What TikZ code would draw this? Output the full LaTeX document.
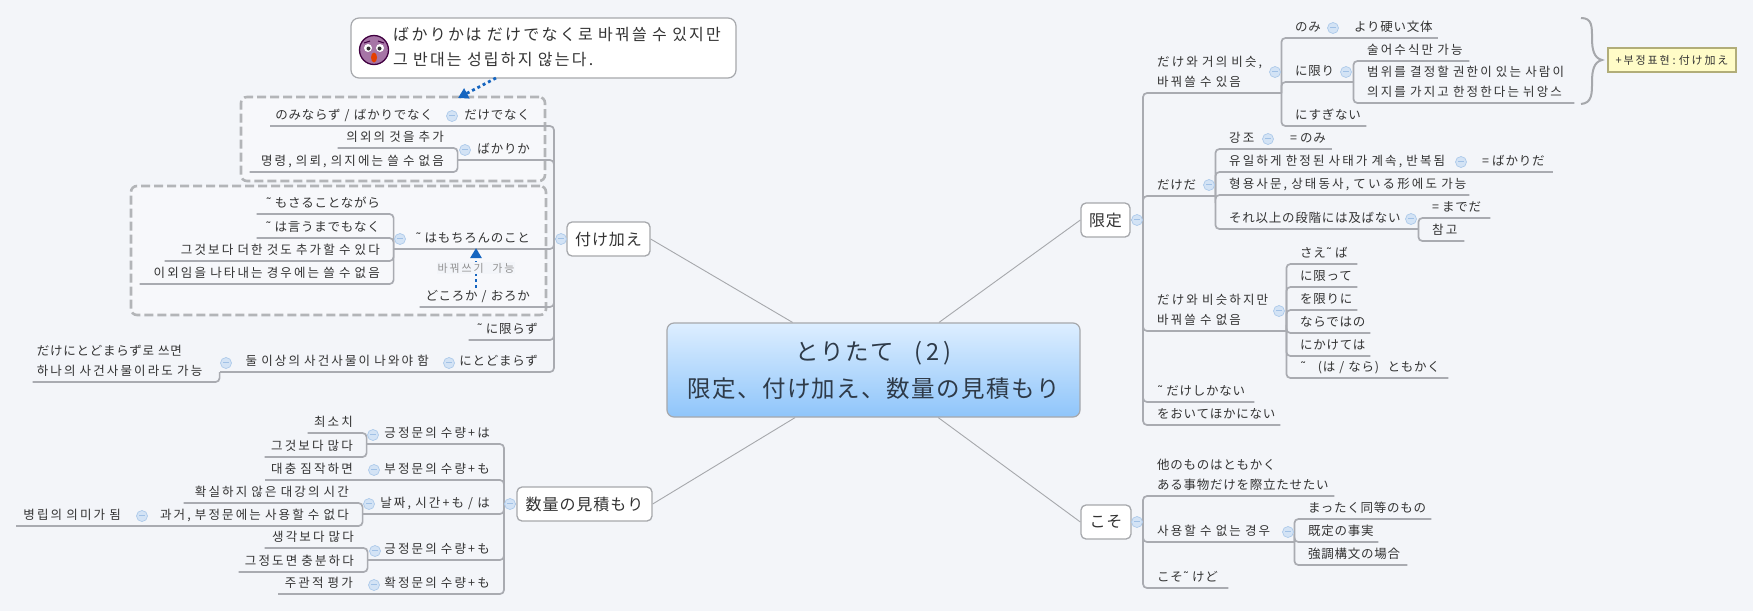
\documentclass[tikz,border=0pt]{standalone}
\usepackage{fontspec}
\usetikzlibrary{arrows.meta}
\setmainfont{Noto Sans CJK JP}[LetterSpace=6,WordSpace=1.6]
\newfontfamily\ko{Noto Sans CJK JP}[LetterSpace=17,WordSpace=2]
\newfontfamily\nt{Noto Sans CJK JP}[LetterSpace=14,WordSpace=5]
\newfontfamily\vaguefont{DejaVu Sans}
\newcommand{\vague}{{\vaguefont ˜}\kern3pt }
\newcommand{\decale}[1]{\strut\kern#1pt }
\definecolor{fond}{HTML}{F3F5F9}
\definecolor{encre}{HTML}{333333}
\definecolor{trait}{HTML}{A9ABB1}
\definecolor{bord}{HTML}{A6A8AC}
\definecolor{bleu}{HTML}{1565C0}
\definecolor{pli}{HTML}{D3E3F5}
\definecolor{haut}{HTML}{DDEEFF}
\definecolor{bas}{HTML}{8FC5FA}
\tikzset{
  racine/.style={draw=bord,fill=white,line width=1.3pt,rounded corners=5pt,inner sep=0pt,
    text=encre,minimum height=34pt,font=\fontsize{16}{20}\selectfont},
  rsujet/.style={anchor=south west,inner sep=0pt,text width=#1pt,align=left,text=encre,
    font=\fontsize{12.5}{20}\selectfont,execute at begin node=\decale{14},execute at end node=\strut},
  lsujet/.style={anchor=south east,inner sep=0pt,text width=#1pt,align=right,text=encre,
    font=\fontsize{12.5}{20}\selectfont,execute at begin node=\strut,execute at end node=\kern14pt\strut},
  branche/.style={draw=trait,line width=1.7pt,rounded corners=4pt},
  lien/.style={draw=bord,line width=0.9pt},
  plier/.style={circle,draw=pli!80!bleu,fill=pli,line width=0.7pt,minimum size=11pt,inner sep=0pt,
    execute at begin node={\textcolor{bleu!40!white}{\rule[1.5pt]{5.5pt}{1pt}}}},
  groupe/.style={draw=bord!85,line width=2.6pt,dash pattern=on 9pt off 4pt,rounded corners=6pt,
    fill=white,fill opacity=0.35,inner sep=0pt},
  renvoi/.style={draw=bleu,line width=2.8pt,dash pattern=on 3pt off 3pt,-{Triangle[length=10pt,width=11pt]}}
}
\begin{document}
\begin{tikzpicture}[x=1pt,y=-1pt]
  \path[use as bounding box,fill=fond] (0,0) rectangle (1753,611);

  % Groupes.
  \node[groupe,minimum width=304pt,minimum height=84pt] (groupeA) at (393,139) {};
  \node[groupe,minimum width=415pt,minimum height=129pt] (groupeB) at (338.5,250.5) {};

  % Centre.
  \node[draw=bord,top color=haut,bottom color=bas,line width=1.2pt,rounded corners=7pt,
    minimum width=413pt,minimum height=94pt,inner sep=0pt,align=center,text=encre!85!bleu,
    font=\fontsize{23.5}{37}\selectfont] (centre) at (873.5,370)
    {とりたて\ \ (\,2\,)\\限定、付け加え、数量の見積もり};

  % Sujets.
  \node[racine,minimum width=83pt] (ajout) at (608.5,239) {付け加え};
  \node[racine,minimum width=135pt] (quantite) at (584.5,504) {数量の見積もり};
  \node[racine,minimum width=49pt] (limite) at (1105.5,220) {限定};
  \node[racine,minimum width=50pt] (koso) at (1106,522) {こそ};
  \draw[lien] (ajout.east) -- (centre);
  \draw[lien] (quantite.east) -- (centre);
  \draw[lien] (limite.west) -- (centre);
  \draw[lien] (koso.west) -- (centre);

  % Note.
  \node[draw=bord,fill=white,line width=1.2pt,rounded corners=8pt,inner sep=0pt,text width=385pt,align=left,
    minimum height=60pt,text=encre,font=\fontsize{16}{25}\selectfont] (note) at (543.5,48)
    {\decale{42}\nt ばかりかは だけでなく로 바꿔쓸 수 있지만\\\decale{42}그 반대는 성립하지 않는다.};
  \node[circle,draw=violet!50!black,fill=violet!55!gray!70!white,line width=1.3pt,minimum size=29pt,inner sep=0pt] (visage) at (374,50) {};
  \fill[white] (368,48) circle (4) (380,48) circle (4);
  \fill[black!80] (368.5,48.5) circle (2) (379.5,48.5) circle (2);
  \fill[orange!55!red!90!black] (374,57.5) ellipse (3 and 5);
  \draw[violet!50!black,line width=1pt] (364,43) -- (370,41) (378,41) -- (384,43);

  % Ajout.
  \coordinate (axeA) at (554,239);
  \draw[branche] (ajout.west) -- (axeA);
  \node[lsujet=97] (dakede) at (544,126) {だけでなく};
  \node[lsujet=177] (nominarazu) at (447,126) {のみならず / ばかりでなく};
  \node[lsujet=86] (bakarika) at (544,160) {ばかりか};
  \node[lsujet=120] (igai) at (458,148) {\ko 의외의 것을 추가};
  \node[lsujet=208] (meirei) at (458,172) {\ko 명령, 의뢰, 의지에는 쓸 수 없음};
  \node[lsujet=150] (mochiron) at (544,249) {\vague はもちろんのこと};
  \node[lsujet=137] (mosaru) at (394,214) {\vague もさることながら};
  \node[lsujet=137] (iumade) at (394,238) {\vague は言うまでもなく};
  \node[lsujet=229] (soreyori) at (394,261) {\ko 그것보다 더한 것도 추가할 수 있다};
  \node[lsujet=254] (igaini) at (394,284) {\ko 이외임을 나타내는 경우에는 쓸 수 없음};
  \node[lsujet=124] (dokoroka) at (544,307) {どころか / おろか};
  \node[lsujet=83] (nikagirazu) at (552,340) {\vague に限らず};
  \node[lsujet=109] (todomarazu) at (552,372) {にとどまらず};
  \node[lsujet=223] (futatsu) at (443,372) {\ko 둘 이상의 사건사물이 나와야 함};
  \node[lsujet=187,align=left,execute at end node=\strut] (dakeni) at (220,382)
    {\decale{4}だけにとどまらず로 쓰면\\\decale{4}\ko 하나의 사건사물이라도 가능};
  \foreach \fils in {dakede,bakarika,mochiron,dokoroka,nikagirazu,todomarazu}
    \draw[branche] (axeA) |- (\fils.south west);
  \draw[branche] (dakede.south west) -- (nominarazu.south west);
  \foreach \fils in {igai,meirei}
    \draw[branche] (bakarika.south west) |- (\fils.south west);
  \foreach \fils in {mosaru,iumade,soreyori,igaini}
    \draw[branche] (mochiron.south west) |- (\fils.south west);
  \draw[branche] (todomarazu.south west) -- (futatsu.south west);
  \draw[branche] (futatsu.south west) |- (dakeni.south west);

  % Renvois.
  \coordinate (departA) at (496,78);
  \coordinate (arriveeA) at (458,98);
  \draw[renvoi] (departA) -- (arriveeA);
  \coordinate (departB) at (476,288);
  \coordinate (arriveeB) at (476,248);
  \draw[renvoi] (departB) -- node[fill=fond,inner sep=1pt,text=gray!85,font=\fontsize{11}{14}\selectfont] (bascule) {\ko 바꿔쓰기 가능} (arriveeB);

  % Quantite.
  \coordinate (axeQ) at (504,504);
  \draw[branche] (quantite.west) -- (axeQ);
  \node[lsujet=137] (kouteiA) at (504,444) {\ko 긍정문의 수량+は};
  \node[lsujet=59] (saisho) at (367,433) {\ko 최소치};
  \node[lsujet=102] (sorebori) at (367,457) {\ko 그것보다 많다};
  \node[lsujet=137] (hitei) at (504,480) {\ko 부정문의 수량+も};
  \node[lsujet=102] (taichu) at (367,480) {\ko 대충 짐작하면};
  \node[lsujet=141] (hizuke) at (504,514) {\ko 날짜, 시간+も / は};
  \node[lsujet=179] (kakujitsu) at (363,503) {\ko 확실하지 않은 대강의 시간};
  \node[lsujet=228] (kako) at (363,526) {\ko 과거, 부정문에는 사용할 수 없다};
  \node[lsujet=119] (heiritsu) at (135,526) {\ko 병립의 의미가 됨};
  \node[lsujet=136] (kouteiB) at (504,560) {\ko 긍정문의 수량+も};
  \node[lsujet=103] (omou) at (368,548) {\ko 생각보다 많다};
  \node[lsujet=129] (teido) at (368,572) {\ko 그정도면 충분하다};
  \node[lsujet=137] (kakutei) at (504,594) {\ko 확정문의 수량+も};
  \node[lsujet=89] (shukan) at (367,594) {\ko 주관적 평가};
  \foreach \fils in {kouteiA,hitei,hizuke,kouteiB,kakutei}
    \draw[branche] (axeQ) |- (\fils.south west);
  \foreach \fils in {saisho,sorebori}
    \draw[branche] (kouteiA.south west) |- (\fils.south west);
  \draw[branche] (hitei.south west) -- (taichu.south west);
  \foreach \fils in {kakujitsu,kako}
    \draw[branche] (hizuke.south west) |- (\fils.south west);
  \draw[branche] (kako.south west) -- (heiritsu.south west);
  \foreach \fils in {omou,teido}
    \draw[branche] (kouteiB.south west) |- (\fils.south west);
  \draw[branche] (kakutei.south west) -- (shukan.south west);

  % Limite.
  \coordinate (axeL) at (1143,220);
  \draw[branche] (limite.east) -- (axeL);
  \node[rsujet=138] (presque) at (1143,93) {\ko だけ와 거의 비슷,\\\decale{14}바꿔쓸 수 있음};
  \node[rsujet=59] (nomi) at (1281,38) {のみ};
  \node[rsujet=98] (katai) at (1340,38) {より硬い文体};
  \node[rsujet=72] (nikagiri) at (1281,82) {に限り};
  \node[rsujet=116] (jutsugo) at (1353,61) {\ko 술어수식만 가능};
  \node[rsujet=221] (hani) at (1353,103) {\ko 범위를 결정할 권한이 있는 사람이\\\decale{14}의지를 가지고 한정한다는 뉘앙스};
  \node[rsujet=85] (sugi) at (1281,126) {にすぎない};
  \node[rsujet=72] (dakeda) at (1143,196) {だけだ};
  \node[rsujet=61] (kyouchou) at (1215,149) {\ko 강조};
  \node[rsujet=56] (nomiB) at (1276,149) {=\kern3pt のみ};
  \node[rsujet=253] (yuiitsu) at (1215,172) {\ko 유일하게 한정된 사태가 계속, 반복됨};
  \node[rsujet=85] (bakarida) at (1468,172) {=\kern3pt ばかりだ};
  \node[rsujet=254] (keiyou) at (1215,195) {\ko 형용사문, 상태동사, ている形에도 가능};
  \node[rsujet=203] (ijou) at (1215,229) {それ以上の段階には及ばない};
  \node[rsujet=72] (madeda) at (1418,218) {=\kern3pt までだ};
  \node[rsujet=46] (sankou) at (1418,241) {\ko 참고};
  \node[rsujet=143] (ruiji) at (1143,331) {\ko だけ와 비슷하지만\\\decale{14}바꿔쓸 수 없음};
  \node[rsujet=71] (saeba) at (1286,264) {さえ\vague ば};
  \node[rsujet=71] (kagitte) at (1286,287) {に限って};
  \node[rsujet=71] (kagirini) at (1286,310) {を限りに};
  \node[rsujet=84] (naradeha) at (1286,333) {ならではの};
  \node[rsujet=84] (nikakete) at (1286,356) {にかけては};
  \node[rsujet=162] (tomokaku) at (1286,378) {\vague\ \ (は / なら)\ \ ともかく};
  \node[rsujet=111] (shikanai) at (1143,402) {\vague だけしかない};
  \node[rsujet=137] (okite) at (1143,425) {をおいてほかにない};
  \foreach \fils in {presque,dakeda,ruiji,shikanai,okite}
    \draw[branche] (axeL) |- (\fils.south east);
  \foreach \fils in {nomi,nikagiri,sugi}
    \draw[branche] (presque.south east) |- (\fils.south east);
  \draw[branche] (nomi.south east) -- (katai.south east);
  \foreach \fils in {jutsugo,hani}
    \draw[branche] (nikagiri.south east) |- (\fils.south east);
  \foreach \fils in {kyouchou,yuiitsu,keiyou,ijou}
    \draw[branche] (dakeda.south east) |- (\fils.south east);
  \draw[branche] (kyouchou.south east) -- (nomiB.south east);
  \draw[branche] (yuiitsu.south east) -- (bakarida.south east);
  \foreach \fils in {madeda,sankou}
    \draw[branche] (ijou.south east) |- (\fils.south east);
  \foreach \fils in {saeba,kagitte,kagirini,naradeha,nikakete,tomokaku}
    \draw[branche] (ruiji.south east) |- (\fils.south east);

  % Accolade.
  \draw[draw=bord,line width=2pt] (1581,18) .. controls (1592,18) and (1592,26) .. (1592,38)
    .. controls (1592,50) and (1594,58) .. (1602,60) .. controls (1594,62) and (1592,70) .. (1592,82)
    .. controls (1592,94) and (1592,103) .. (1581,104);
  \node[draw=olive!45!gray!70,fill=yellow!22!white,line width=1.2pt,inner sep=0pt,minimum width=128pt,minimum height=24pt,
    text=encre,font=\fontsize{11}{14}\selectfont] (resume) at (1672,60) {\ko +부정표현\kern3pt:\kern3pt 付け加え};

  % Koso.
  \coordinate (axeK) at (1143,522);
  \draw[branche] (koso.east) -- (axeK);
  \node[rsujet=191] (hokano) at (1143,496) {他のものはともかく\\\decale{14}ある事物だけを際立たせたい};
  \node[rsujet=151] (shiyou) at (1143,542) {\ko 사용할 수 없는 경우};
  \node[rsujet=137] (mattaku) at (1294,519) {まったく同等のもの};
  \node[rsujet=84] (kitei) at (1294,542) {既定の事実};
  \node[rsujet=113] (kyouchouB) at (1294,565) {強調構文の場合};
  \node[rsujet=85] (kosokedo) at (1143,588) {こそ\vague けど};
  \foreach \fils in {hokano,shiyou,kosokedo}
    \draw[branche] (axeK) |- (\fils.south east);
  \foreach \fils in {mattaku,kitei,kyouchouB}
    \draw[branche] (shiyou.south east) |- (\fils.south east);

  % Plis.
  \foreach \px/\py [count=\n] in {561/239,452/116,465/150,400/239,449/363,226/363,510/504,373/435,374/470,369/504,142/516,375/551,374/585,
      1137/220,1275/72,1333/28,1346/72,1209/185,1268/139,1461/162,1411/219,1279/311,1137/522,1288/532}
    \node[plier] (pli\n) at (\px,\py) {};
\end{tikzpicture}
\end{document}
